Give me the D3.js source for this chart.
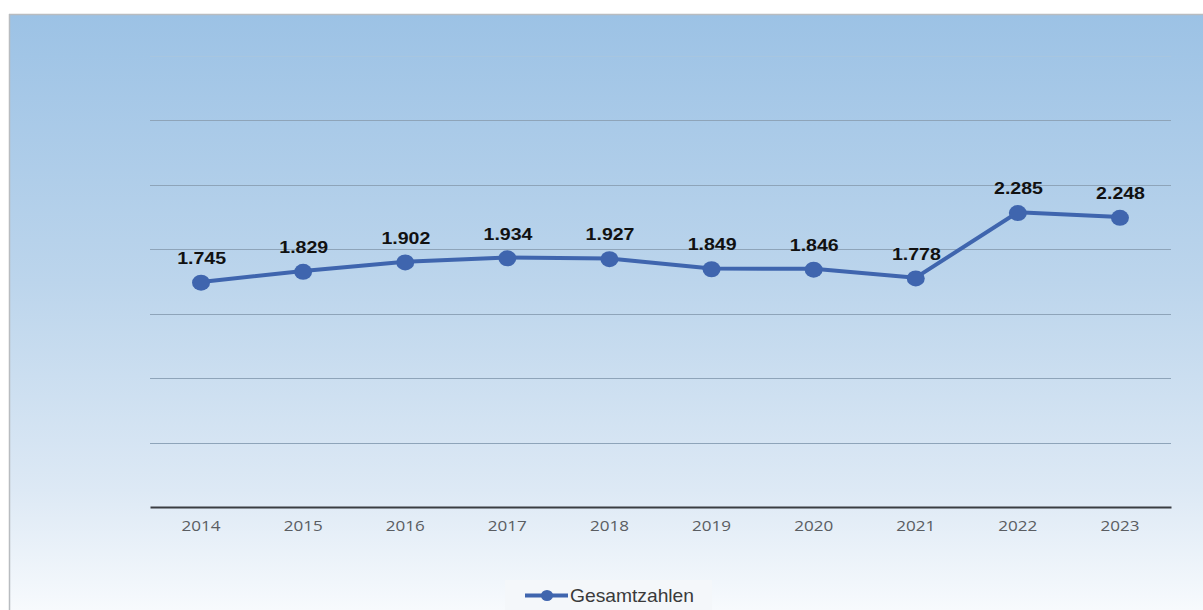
<!DOCTYPE html>
<html>
<head>
<meta charset="utf-8">
<script src="https://cdn.jsdelivr.net/npm/d3@7/dist/d3.min.js"></script>
<style>
  html, body { margin: 0; padding: 0; background: #ffffff; }
  svg { display: block; }
</style>
</head>
<body>
<svg id="chart" width="1203" height="610"></svg>
<script>
// Yearly totals (thousands, German number format)
const years = ["2014", "2015", "2016", "2017", "2018", "2019", "2020", "2021", "2022", "2023"];
const totals = [1.745, 1.829, 1.902, 1.934, 1.927, 1.849, 1.846, 1.778, 2.285, 2.248];
const gridValues = [0.5, 1.0, 1.5, 2.0, 2.5, 3.0, 3.5];
const seriesName = "Gesamtzahlen";

const svg = d3.select("#chart");
const W = 1203, H = 610;

// Panel background: blue at the top fading to near-white
const defs = svg.append("defs");
const grad = defs.append("linearGradient")
  .attr("id", "bg").attr("x1", 0).attr("y1", 0).attr("x2", 0).attr("y2", 1);
grad.append("stop").attr("offset", "0%").attr("stop-color", "#9cc2e5");
grad.append("stop").attr("offset", "45%").attr("stop-color", "#bcd5ec");
grad.append("stop").attr("offset", "80%").attr("stop-color", "#dde9f5");
grad.append("stop").attr("offset", "100%").attr("stop-color", "#f7fafd");

svg.append("rect")
  .attr("x", 9).attr("y", 14).attr("width", W - 9).attr("height", H - 14)
  .attr("fill", "url(#bg)");
// Frame edges (top and left)
svg.append("line").attr("x1", 9).attr("x2", W).attr("y1", 14.5).attr("y2", 14.5)
  .attr("stroke", "#b8bcc0").attr("stroke-width", 1.5);
svg.append("line").attr("x1", 9.5).attr("x2", 9.5).attr("y1", 14).attr("y2", H)
  .attr("stroke", "#b8bcc0").attr("stroke-width", 1.5);

const plot = { left: 150, right: 1171, top: 55.5, bottom: 507 };

const x = d3.scaleBand().domain(years).range([plot.left, plot.right]);
const y = d3.scaleLinear().domain([0, 3.5]).range([plot.bottom, plot.top]);
const cx = (d, i) => x(years[i]) + x.bandwidth() / 2;

// Horizontal gridlines
svg.append("g").selectAll("line")
  .data(gridValues)
  .join("line")
  .attr("x1", plot.left).attr("x2", plot.right)
  .attr("y1", d => Math.round(y(d)) + 0.5).attr("y2", d => Math.round(y(d)) + 0.5)
  .attr("stroke", d => d === 3.5 ? "#a8c6e0" : "#8ea4b9")
  .attr("stroke-width", 1);

// Category axis (labels set slightly wide)
const xAxis = svg.append("g")
  .attr("transform", `translate(0,${plot.bottom})`)
  .call(d3.axisBottom(x).tickSize(0).tickPadding(14));
xAxis.select(".domain").attr("stroke", "#3a3d42").attr("stroke-width", 2.2);
xAxis.selectAll("text")
  .attr("font-family", "'Open Sans', 'DejaVu Sans', sans-serif")
  .attr("font-size", 14)
  .attr("transform", "scale(1.22,1)")
  .attr("fill", "#5a5d62");

// Series line
const lineColor = "#3f65ae";
const line = d3.line().x(cx).y(d => y(d));

svg.append("path")
  .datum(totals)
  .attr("d", line)
  .attr("fill", "none")
  .attr("stroke", lineColor)
  .attr("stroke-width", 4)
  .attr("stroke-linejoin", "round");

svg.append("g").selectAll("ellipse")
  .data(totals)
  .join("ellipse")
  .attr("cx", cx)
  .attr("cy", d => y(d) + 0.8)
  .attr("rx", 9).attr("ry", 8)
  .attr("fill", lineColor);

// Value labels
const fmt = v => v.toFixed(3);
svg.append("g").selectAll("text")
  .data(totals)
  .join("text")
  .attr("transform", (d, i) => `translate(${cx(d, i) + 0.6},${y(d) - 18}) scale(1.15,1)`)
  .attr("text-anchor", "middle")
  .attr("font-family", "'Liberation Sans', Arial, sans-serif")
  .attr("font-weight", "bold")
  .attr("font-size", 17)
  .attr("fill", "#111111")
  .text(d => fmt(d));

// Legend
const leg = svg.append("g").attr("transform", "translate(505,580)");
leg.append("rect").attr("width", 207).attr("height", 30).attr("fill", "#f4f7fa");
leg.append("line").attr("x1", 20).attr("x2", 63).attr("y1", 15.5).attr("y2", 15.5)
  .attr("stroke", lineColor).attr("stroke-width", 4);
leg.append("ellipse").attr("cx", 42).attr("cy", 15.5).attr("rx", 6).attr("ry", 5.5)
  .attr("fill", lineColor);
leg.append("text")
  .attr("transform", "translate(65,22) scale(1.1,1)")
  .attr("font-family", "'Liberation Sans', Arial, sans-serif")
  .attr("font-size", 17.5)
  .attr("fill", "#3a3a3a")
  .text(seriesName);
</script>
</body>
</html>
